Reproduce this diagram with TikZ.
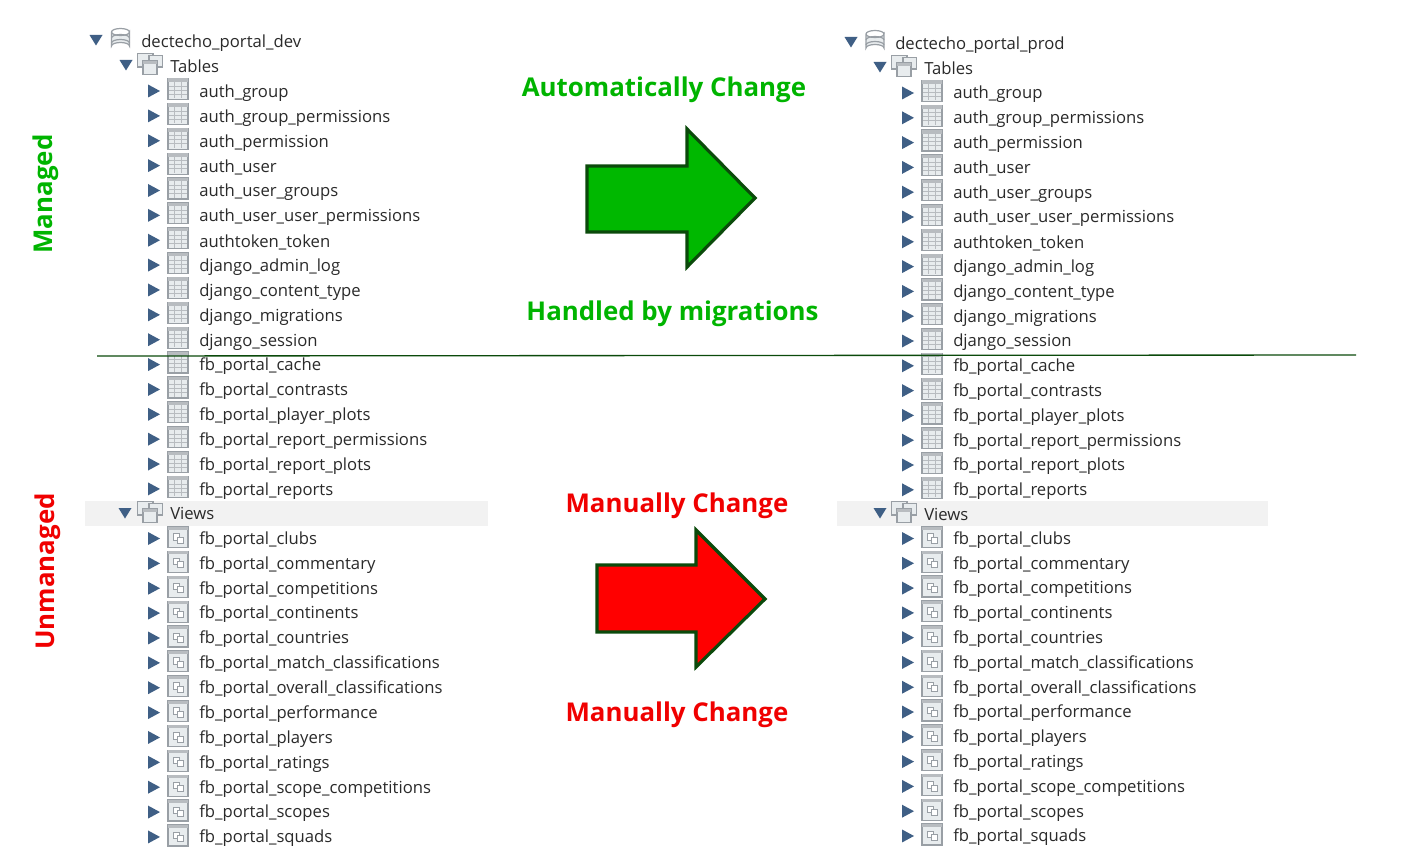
\documentclass[tikz,border=0pt]{standalone}
\usepackage{fontspec}
\setmainfont{Open Sans}
\definecolor{tritri}{HTML}{3F5F85}
\definecolor{icoedge}{HTML}{999FA5}
\definecolor{icofill}{HTML}{E8ECEE}
\definecolor{txt}{HTML}{2A2A2A}
\definecolor{gfill}{HTML}{00B800}
\definecolor{dgreen}{HTML}{0B4A0B}
\definecolor{lblgreen}{HTML}{00B400}
\definecolor{lblred}{HTML}{F00000}
\tikzset{
  x=0.75pt,y=-0.75pt,
  rowtext/.style={anchor=west,inner sep=0pt,text=txt,font=\fontsize{12.5}{14}\selectfont},
  bigtext/.style={inner sep=0pt,font=\fontsize{19.4}{24}\selectfont\bfseries},
  bigarrow/.style={draw=dgreen,line width=2.4pt,miter limit=10},
  closedtri/.pic={\fill[tritri] (-6,-6.5)--(6,0)--(-6,6.5)--cycle;},
  opentri/.pic={\fill[tritri] (-6.5,-5)--(6.5,-5)--(0,5.5)--cycle;},
  tblicon/.pic={
    \draw[icoedge,fill=icofill,line width=0.9pt] (-10,-10.5) rectangle (10,10.5);
    \fill[icoedge!70] (-10,-10.5) rectangle (10,-7);
    \foreach \u in {-3,1,5}{\draw[icoedge!70,line width=0.45pt] (-9,\u)--(9,\u);}
    \foreach \u in {-4,3.5}{\draw[icoedge!70,line width=0.45pt] (\u,-7)--(\u,9.5);}
  },
  viewicon/.pic={
    \draw[icoedge,fill=icofill,line width=0.9pt] (-10,-10.5) rectangle (10,10.5);
    \fill[icoedge!70] (-10,-10.5) rectangle (10,-7.5);
    \draw[icoedge,line width=0.6pt,fill=white] (-5,-3.5) rectangle (1.5,3);
    \draw[icoedge,line width=0.6pt,fill=white] (-1,0) rectangle (5.5,6);
  },
  dbicon/.pic={
    \draw[icoedge,fill=icofill,line width=0.9pt] (-9,-7) -- (-9,7) arc[start angle=180,end angle=360,x radius=9,y radius=3.5] -- (9,-7) arc[start angle=0,end angle=180,x radius=9,y radius=3.5];
    \draw[icoedge,line width=0.9pt] (-9,-7) arc[start angle=180,end angle=360,x radius=9,y radius=3.5];
    \draw[icoedge,line width=0.9pt] (-9,-1) arc[start angle=180,end angle=360,x radius=9,y radius=3.5];
    \draw[icoedge,line width=0.9pt] (-9,4) arc[start angle=180,end angle=360,x radius=9,y radius=3.5];
  },
  groupicon/.pic={
    \draw[icoedge,fill=icofill,line width=0.8pt] (-12.5,-10.5) rectangle (3,3);
    \draw[icoedge,fill=icofill,line width=0.8pt] (-1,-8.5) rectangle (12.5,3);
    \draw[icoedge,fill=icofill,line width=0.8pt] (-7,-3) rectangle (7,10.5);
    \fill[icoedge!70] (-7,-3) rectangle (7,0);
  },
}
\newcommand{\tablelist}{auth\_group,auth\_group\_permissions,auth\_permission,auth\_user,auth\_user\_groups,auth\_user\_user\_permissions,authtoken\_token,django\_admin\_log,django\_content\_type,django\_migrations,django\_session,fb\_portal\_cache,fb\_portal\_contrasts,fb\_portal\_player\_plots,fb\_portal\_report\_permissions,fb\_portal\_report\_plots,fb\_portal\_reports}
\newcommand{\viewlist}{fb\_portal\_clubs,fb\_portal\_commentary,fb\_portal\_competitions,fb\_portal\_continents,fb\_portal\_countries,fb\_portal\_match\_classifications,fb\_portal\_overall\_classifications,fb\_portal\_performance,fb\_portal\_players,fb\_portal\_ratings,fb\_portal\_scope\_competitions,fb\_portal\_scopes,fb\_portal\_squads}
\begin{document}
\begin{tikzpicture}
\useasboundingbox[fill=white] (0,0) rectangle (1413,863);
% view bands
\fill[black!5] (85,501) rectangle (488,526);
\fill[black!5] (837,501) rectangle (1268,526);
% left tree
\pic at (96,40) {opentri};
\pic at (120.5,39) {dbicon};
\node[rowtext] (ldb) at (141,43) {dectecho\_portal\_dev};
\pic at (126,65) {opentri};
\pic at (150,64) {groupicon};
\node[rowtext] (ltables) at (170,66) {Tables};
\foreach \t [count=\i from 0] in \tablelist {
  \pgfmathsetmacro{\yy}{91+24.87*\i}
  \pic at (154,\yy) {closedtri};
  \pic at (178,\yy-2) {tblicon};
  \node[rowtext] (lt\i) at (199,\yy+2) {\t};
}
\pic at (125,513) {opentri};
\pic at (150,512) {groupicon};
\node[rowtext] (lviews) at (170,513.5) {Views};
\foreach \t [count=\i from 0] in \viewlist {
  \pgfmathsetmacro{\yy}{538.5+24.87*\i}
  \pic at (154,\yy) {closedtri};
  \pic at (178,\yy-1.5) {viewicon};
  \node[rowtext] (lv\i) at (199,\yy+1.5) {\t};
}
% right tree
\pic at (851,42) {opentri};
\pic at (875,41) {dbicon};
\node[rowtext] (rdb) at (895,45) {dectecho\_portal\_prod};
\pic at (880,67) {opentri};
\pic at (904,66) {groupicon};
\node[rowtext] (rtables) at (924,68) {Tables};
\foreach \t [count=\i from 0] in \tablelist {
  \pgfmathsetmacro{\yy}{93+24.8*\i}
  \pic at (908,\yy) {closedtri};
  \pic at (932,\yy-2) {tblicon};
  \node[rowtext] (rt\i) at (953,\yy+1.5) {\t};
}
\pic at (880,513) {opentri};
\pic at (904,512) {groupicon};
\node[rowtext] (rviews) at (924,514) {Views};
\foreach \t [count=\i from 0] in \viewlist {
  \pgfmathsetmacro{\yy}{538.5+24.79*\i}
  \pic at (908,\yy) {closedtri};
  \pic at (932,\yy-1.5) {viewicon};
  \node[rowtext] (rv\i) at (953,\yy+1.5) {\t};
}
% divider
\coordinate (divl) at (97,356);
\coordinate (divr) at (1356,355);
\draw[dgreen,line width=1pt] (divl) -- (divr);
% arrows
\draw[bigarrow,fill=gfill] (587,166)--(687,166)--(687,129)--(755,198)--(687,267)--(687,232)--(587,232)--cycle;
\draw[bigarrow,fill=red] (597,565)--(696,565)--(696,530)--(765,599)--(696,667)--(696,632)--(597,632)--cycle;
% labels
\node[bigtext,text=lblgreen] (auto) at (664,90) {Automatically Change};
\node[bigtext,text=lblgreen] (mig) at (672.5,313.5) {Handled by migrations};
\node[bigtext,text=lblred] (man1) at (677,506) {Manually Change};
\node[bigtext,text=lblred] (man2) at (677,715) {Manually Change};
\node[bigtext,text=lblgreen,rotate=90] (managed) at (45.5,194) {Managed};
\node[bigtext,text=lblred,rotate=90] (unmanaged) at (47.5,571.5) {Unmanaged};
\end{tikzpicture}
\end{document}
